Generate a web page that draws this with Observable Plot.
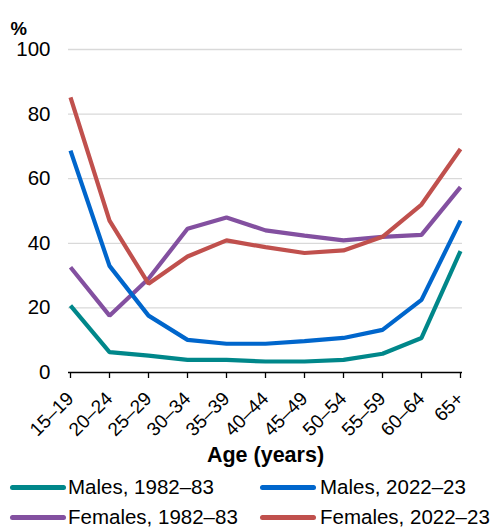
<!DOCTYPE html>
<html>
<head>
<meta charset="utf-8">
<script src="https://cdn.jsdelivr.net/npm/d3@7"></script>
<script src="https://cdn.jsdelivr.net/npm/@observablehq/plot@0.6"></script>
<style>
  body { margin: 0; background: #fff; font-family: "Liberation Sans", Arial, sans-serif; overflow: hidden; }
  #chart { width: 499px; }
  .legend { display: grid; grid-template-columns: 250px 249px; margin-top: 2px; }
  .item { display: flex; align-items: center; height: 30px; font-size: 20.5px; color: #000; white-space: nowrap; }
  .sw { width: 56px; height: 5px; border-radius: 3px; margin-left: 10px; margin-right: 2px; flex: none; }
  .item.c2 .sw { margin-left: 10px; margin-right: 4px; }
</style>
</head>
<body>
<div id="chart"></div>
<script>
const ages = ["15–19","20–24","25–29","30–34","35–39","40–44","45–49","50–54","55–59","60–64","65+"];
const malesEarly   = [20.7, 6.3, 5.2, 3.9, 3.9, 3.4, 3.4, 3.9, 5.8, 10.7, 37.6];
const malesLate    = [68.7, 33.0, 17.6, 10.1, 8.9, 8.9, 9.7, 10.7, 13.2, 22.5, 47.0];
const femalesEarly = [32.6, 17.6, 29.0, 44.5, 48.0, 44.0, 42.4, 40.9, 42.0, 42.6, 57.4];
const femalesLate  = [85.2, 47.0, 27.5, 35.9, 40.9, 38.8, 37.0, 37.8, 42.0, 52.0, 69.2];
const seriesNames  = ["Males, 1982–83","Males, 2022–23","Females, 1982–83","Females, 2022–23"];
const seriesColors = ["#00878A","#0066CC","#8350A0","#C0504D"];
const yTicks = [0, 20, 40, 60, 80, 100];

const seriesValues = [malesEarly, malesLate, femalesEarly, femalesLate];
const rows = [];
seriesValues.forEach((vals, si) => vals.forEach((v, i) => rows.push({age: ages[i], value: v, series: seriesNames[si]})));
const order = ["Males, 1982–83","Females, 1982–83","Males, 2022–23","Females, 2022–23"];

const plot = Plot.plot({
  width: 499,
  height: 470,
  marginLeft: 68,
  marginRight: 37,
  marginTop: 49,
  marginBottom: 98,
  style: {fontFamily: "'Liberation Sans', Arial, sans-serif", fontSize: "20px", color: "#000", background: "#fff", overflow: "visible"},
  x: {type: "point", domain: ages, padding: 0},
  y: {domain: [0, 100]},
  color: {domain: seriesNames, range: seriesColors},
  marks: [
    Plot.gridY(yTicks.filter(d => d > 0), {stroke: "#d9d9d9", strokeOpacity: 1, strokeWidth: 1.3}),
    Plot.axisY(yTicks, {tickSize: 0, tickPadding: 18, fontSize: 20.5, label: null}),
    ...order.map(name => Plot.line(rows.filter(r => r.series === name), {x: "age", y: "value", stroke: "series", strokeWidth: 4.2, strokeLinejoin: "miter", strokeLinecap: "butt"})),
    Plot.ruleY([0], {stroke: "#000", strokeWidth: 1.5}),
    Plot.axisX({tickSize: 6, text: null, label: null, stroke: "#000", strokeWidth: 1.3}),
    Plot.text(ages, {x: d => d, frameAnchor: "bottom", rotate: -45, textAnchor: "end", lineAnchor: "middle", dx: 0, dy: 23, fontSize: 19}),
    Plot.text(["Age (years)"], {frameAnchor: "bottom", dy: 89, fontWeight: "bold", fontSize: 21.5}),
    Plot.text(["%"], {frameAnchor: "top-left", dx: -58, dy: -28, textAnchor: "start", fontWeight: "bold", fontSize: 18.5})
  ]
});
document.getElementById("chart").appendChild(plot);

const legend = document.createElement("div");
legend.className = "legend";
[0, 1, 2, 3].forEach((si, k) => {
  const item = document.createElement("div");
  item.className = "item" + (k % 2 ? " c2" : "");
  const sw = document.createElement("span");
  sw.className = "sw";
  sw.style.background = seriesColors[si];
  const label = document.createElement("span");
  label.textContent = seriesNames[si];
  item.appendChild(sw); item.appendChild(label);
  legend.appendChild(item);
});
document.getElementById("chart").appendChild(legend);
</script>
</body>
</html>
